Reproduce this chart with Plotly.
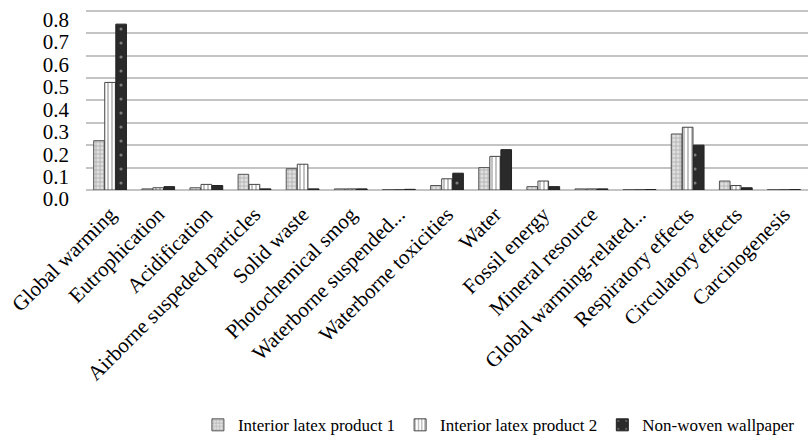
import plotly.graph_objects as go

categories = ["Global warming", "Eutrophication", "Acidification",
              "Airborne suspeded particles", "Solid waste", "Photochemical smog",
              "Waterborne suspended...", "Waterborne toxicities", "Water",
              "Fossil energy", "Mineral resource", "Global warming-related...",
              "Respiratory effects", "Circulatory effects", "Carcinogenesis"]

latex1 = [0.22, 0.005, 0.01, 0.07, 0.095, 0.005, 0.002, 0.02, 0.10, 0.015, 0.005, 0.002, 0.25, 0.04, 0.002]
latex2 = [0.48, 0.01, 0.025, 0.025, 0.115, 0.005, 0.002, 0.05, 0.15, 0.04, 0.005, 0.002, 0.28, 0.02, 0.002]
wallpaper = [0.74, 0.015, 0.02, 0.005, 0.005, 0.005, 0.003, 0.075, 0.18, 0.015, 0.005, 0.002, 0.20, 0.01, 0.002]

series_names = ["Interior latex product 1", "Interior latex product 2", "Non-woven wallpaper"]
y_ticks = [0.0, 0.1, 0.2, 0.3, 0.4, 0.5, 0.6, 0.7, 0.8]
y_tick_text = ["0.0", "0.1", "0.2", "0.3", "0.4", "0.5", "0.6", "0.7", "0.8"]

FONT = "Liberation Serif, Times New Roman, serif"

fig = go.Figure()
fig.add_trace(go.Bar(
    x=categories, y=latex1, name=series_names[0],
    marker=dict(color="#e0e0e0", line=dict(color="#555", width=1),
                pattern=dict(shape="+", fgcolor="#777", bgcolor="#e0e0e0", size=4, solidity=0.35))))
fig.add_trace(go.Bar(
    x=categories, y=latex2, name=series_names[1],
    marker=dict(color="white", line=dict(color="#444", width=1),
                pattern=dict(shape="|", fgcolor="#333", bgcolor="white", size=4, solidity=0.3))))
fig.add_trace(go.Bar(
    x=categories, y=wallpaper, name=series_names[2],
    marker=dict(color="#2a2a2a", line=dict(color="#222", width=1),
                pattern=dict(shape=".", fgcolor="#cfcfcf", bgcolor="#2a2a2a", size=14, solidity=0.04))))

fig.update_layout(
    width=808, height=443,
    margin=dict(l=86, r=0, t=8, b=253),
    paper_bgcolor="white", plot_bgcolor="white",
    barmode="group", bargap=0.31, bargroupgap=0.04,
    font=dict(family=FONT, color="black"),
    showlegend=True,
    legend=dict(orientation="h", xref="container", yref="container",
                x=0.99, y=0.04, xanchor="right", yanchor="middle",
                font=dict(family=FONT, size=17, color="black"),
                itemwidth=30, tracegroupgap=0),
    xaxis=dict(tickangle=-45, tickfont=dict(family=FONT, size=21, color="black"),
               showline=False, showgrid=False, ticks="", ticklabelstandoff=7,
               automargin=False),
    yaxis=dict(range=[0, 0.812], tickvals=y_ticks, ticktext=y_tick_text,
               tickfont=dict(family=FONT, size=21, color="black"),
               showgrid=True, gridcolor="#c4c4c4", gridwidth=1.5,
               zeroline=True, zerolinecolor="#c4c4c4", zerolinewidth=1.5,
               showline=False, ticks="", ticklabelstandoff=16, ticklabelshift=9,
               automargin=False),
)

fig.write_html("out.html", config={"displayModeBar": False},
               post_script="document.body.style.margin='0';")
